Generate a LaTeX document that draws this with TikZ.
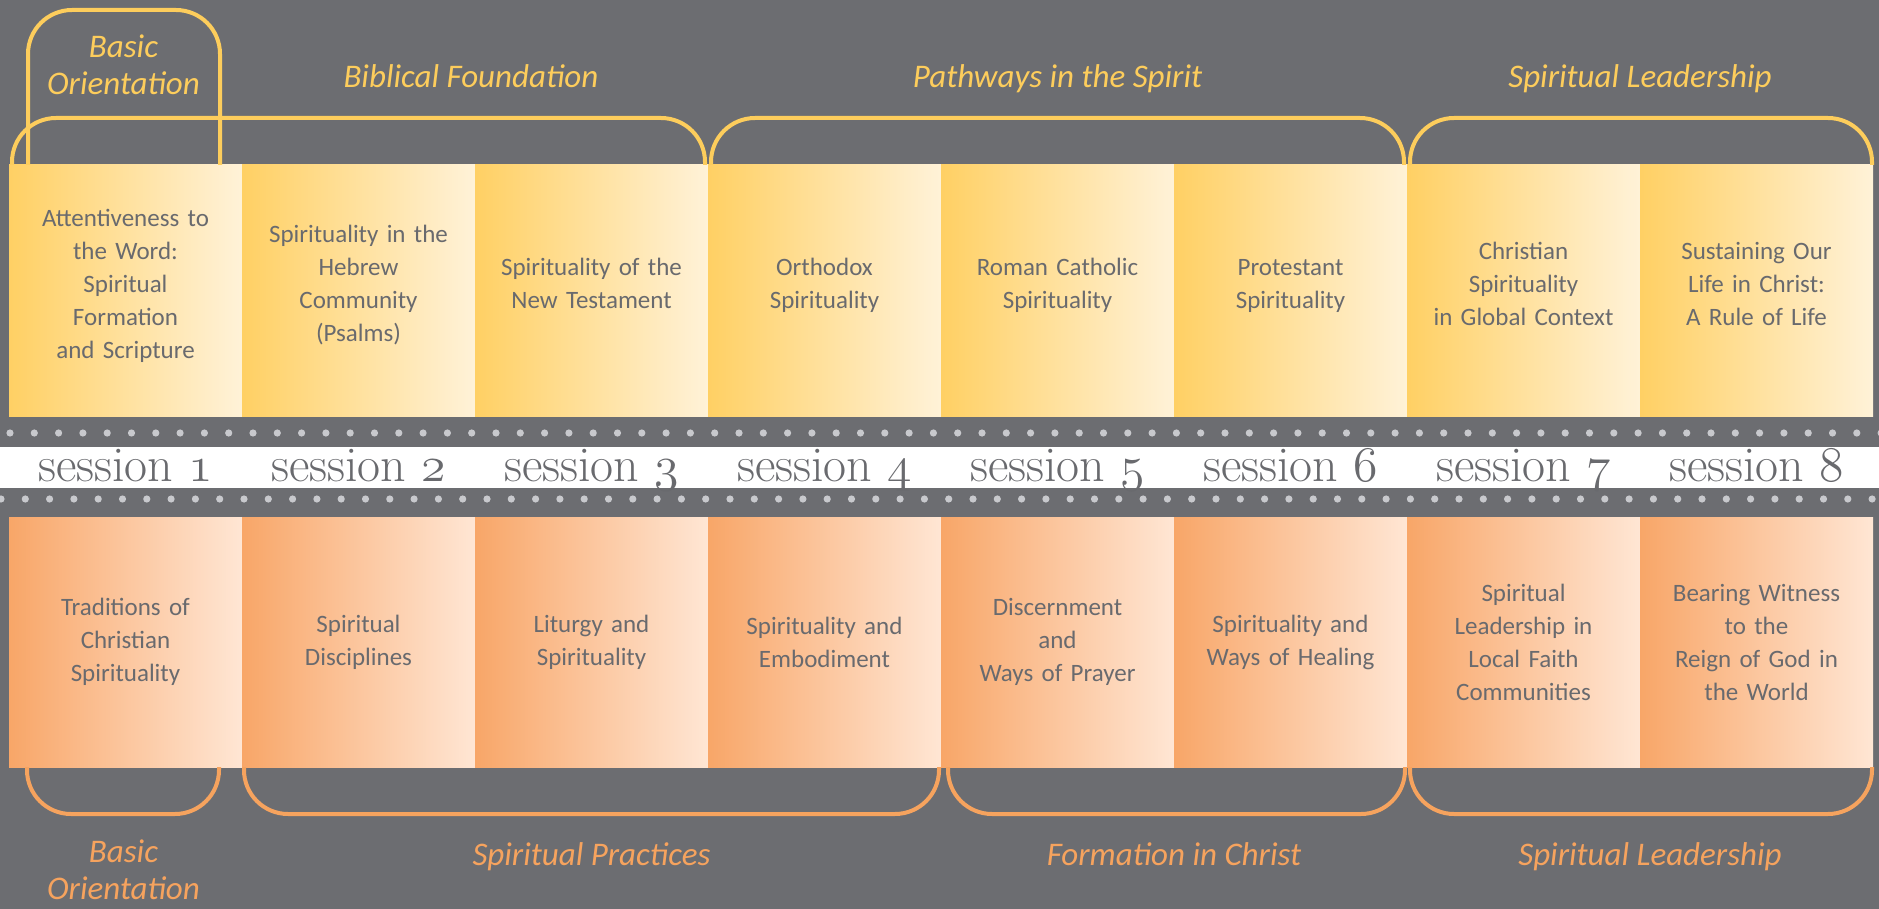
\documentclass[tikz,border=0pt]{standalone}
\usepackage{fontspec}
\usepackage{tikz}
\usetikzlibrary{positioning}
\newfontfamily\boxfont{Carlito}
\definecolor{bg-grey}{RGB}{108,109,113}
\definecolor{text-grey}{RGB}{105,106,110}
\definecolor{dot-grey}{RGB}{200,201,205}
\definecolor{sun-yellow}{RGB}{255,208,100}
\definecolor{sun-cream}{RGB}{255,242,216}
\definecolor{peach-orange}{RGB}{248,166,104}
\definecolor{peach-pale}{RGB}{255,230,212}
\definecolor{line-yellow}{RGB}{253,205,92}
\definecolor{line-orange}{RGB}{246,163,94}
\newcommand{\osnum}[1]{{\usefont{OML}{lmm}{m}{it}#1}}
\tikzset{
	sessionbox/.style={minimum width=116.5pt, inner sep=0pt, outer sep=0pt, text width=110pt, align=center, text=text-grey, font=\boxfont\fontsize{12.5}{16.5}\selectfont},
	topbox/.style={sessionbox, minimum height=125.5pt, left color=sun-yellow, right color=sun-cream, execute at end node={\rule[-7pt]{0pt}{7pt}}},
	lowbox/.style={sessionbox, minimum height=125pt, left color=peach-orange, right color=peach-pale},
	sessionlabel/.style={anchor=base, inner sep=0pt, text=text-grey, font=\fontsize{25}{25}\selectfont},
	upbrace/.style={line-yellow, line width=2pt, rounded corners=22pt},
	lowbrace/.style={line-orange, line width=2pt, rounded corners=22pt},
	uplabel/.style={inner sep=1pt, text=line-yellow, align=center, font=\boxfont\itshape\fontsize{16.5}{18.5}\selectfont},
	lowlabel/.style={inner sep=1pt, text=line-orange, align=center, font=\boxfont\itshape\fontsize{16.5}{18.5}\selectfont}
}
\begin{document}
\begin{tikzpicture}[node distance=0pt]
						\path[use as bounding box, fill=bg-grey] (0,0) rectangle (939.5pt,-454.5pt);
						\fill[white] (0,-223.4pt) rectangle (939.5pt,-243.8pt);
						\foreach \i in {0,...,77}{
							\fill[dot-grey] ({5pt+\i*12.15pt},-216.5pt) circle (1.8pt);
							\fill[dot-grey] ({0.5pt+\i*12.15pt},-249.5pt) circle (1.8pt);
						}
						\node[topbox, anchor=north west] (t1) at (4.5pt,-82.5pt) {Attentiveness to\\the Word:\\Spiritual\\Formation\\and Scripture};
						\node[topbox, right=of t1] (t2) {Spirituality in the\\Hebrew\\Community\\(Psalms)};
						\node[topbox, right=of t2] (t3) {Spirituality of the\\New Testament};
						\node[topbox, right=of t3] (t4) {Orthodox\\Spirituality};
						\node[topbox, right=of t4] (t5) {Roman Catholic\\Spirituality};
						\node[topbox, right=of t5] (t6) {Protestant\\Spirituality};
						\node[topbox, right=of t6] (t7) {Christian\\Spirituality\\in Global Context};
						\node[topbox, right=of t7] (t8) {Sustaining Our\\Life in Christ:\\A Rule of Life};
						\node[lowbox, below=50.5pt of t1] (b1) {Traditions of\\Christian\\Spirituality};
						\node[lowbox, right=of b1] (b2) {Spiritual\\Disciplines};
						\node[lowbox, right=of b2] (b3) {Liturgy and\\Spirituality};
						\node[lowbox, right=of b3] (b4) {Spirituality and\\Embodiment};
						\node[lowbox, right=of b4] (b5) {Discernment\\and\\Ways of Prayer};
						\node[lowbox, right=of b5] (b6) {Spirituality and\\Ways of Healing};
						\node[lowbox, right=of b6] (b7) {Spiritual\\Leadership in\\Local Faith\\Communities};
						\node[lowbox, right=of b7] (b8) {Bearing Witness\\to the\\Reign of God in\\the World};
						\node[sessionlabel] (s1) at ([yshift=-32.5pt]t1.south) {session \osnum{1}};
						\node[sessionlabel] (s2) at ([yshift=-32.5pt]t2.south) {session \osnum{2}};
						\node[sessionlabel] (s3) at ([yshift=-32.5pt]t3.south) {session \osnum{3}};
						\node[sessionlabel] (s4) at ([yshift=-32.5pt]t4.south) {session \osnum{4}};
						\node[sessionlabel] (s5) at ([yshift=-32.5pt]t5.south) {session \osnum{5}};
						\node[sessionlabel] (s6) at ([yshift=-32.5pt]t6.south) {session \osnum{6}};
						\node[sessionlabel] (s7) at ([yshift=-32.5pt]t7.south) {session \osnum{7}};
						\node[sessionlabel] (s8) at ([yshift=-32.5pt]t8.south) {session \osnum{8}};
						\draw[upbrace] ([xshift=9.5pt]t1.north west) |- ([yshift=77.5pt]t1.north) -| ([xshift=-11pt]t1.north east);
						\draw[upbrace] ([xshift=1.5pt]t1.north west) |- ([yshift=23.5pt]t2.north) -| ([xshift=-1.5pt]t3.north east);
						\draw[upbrace] ([xshift=1.5pt]t4.north west) |- ([yshift=23.5pt]t5.north) -| ([xshift=-1.5pt]t6.north east);
						\draw[upbrace] ([xshift=1.5pt]t7.north west) |- ([yshift=23.5pt]t7.north east) -| ([xshift=-0.5pt]t8.north east);
						\draw[lowbrace] ([xshift=9pt]b1.south west) |- ([yshift=-23.5pt]b1.south) -| ([xshift=-11.5pt]b1.south east);
						\draw[lowbrace] ([xshift=1pt]b2.south west) |- ([yshift=-23.5pt]b3.south) -| ([xshift=-1pt]b4.south east);
						\draw[lowbrace] ([xshift=3.5pt]b5.south west) |- ([yshift=-23.5pt]b6.south) -| ([xshift=-1pt]b6.south east);
						\draw[lowbrace] ([xshift=1.5pt]b7.south west) |- ([yshift=-23.5pt]b7.south east) -| ([xshift=-0.5pt]b8.south east);
						\node[uplabel] (basic-top) at ([xshift=-1pt,yshift=50pt]t1.north) {Basic\\Orientation};
						\node[uplabel, anchor=base] (biblical) at ([xshift=-2pt,yshift=38.5pt]t2.north east) {Biblical Foundation};
						\node[uplabel, anchor=base] (pathways) at ([yshift=38.5pt]t5.north) {Pathways in the Spirit};
						\node[uplabel, anchor=base] (leader-top) at ([yshift=38.5pt]t7.north east) {Spiritual Leadership};
						\node[lowlabel] (basic-low) at ([xshift=-1pt,yshift=-51.5pt]b1.south) {Basic\\Orientation};
						\node[lowlabel, anchor=base] (practices) at ([yshift=-49pt]b3.south) {Spiritual Practices};
						\node[lowlabel, anchor=base] (formation) at ([yshift=-49pt]b5.south east) {Formation in Christ};
						\node[lowlabel, anchor=base] (leader-low) at ([xshift=5pt,yshift=-49pt]b7.south east) {Spiritual Leadership};
					\end{tikzpicture}
\end{document}
